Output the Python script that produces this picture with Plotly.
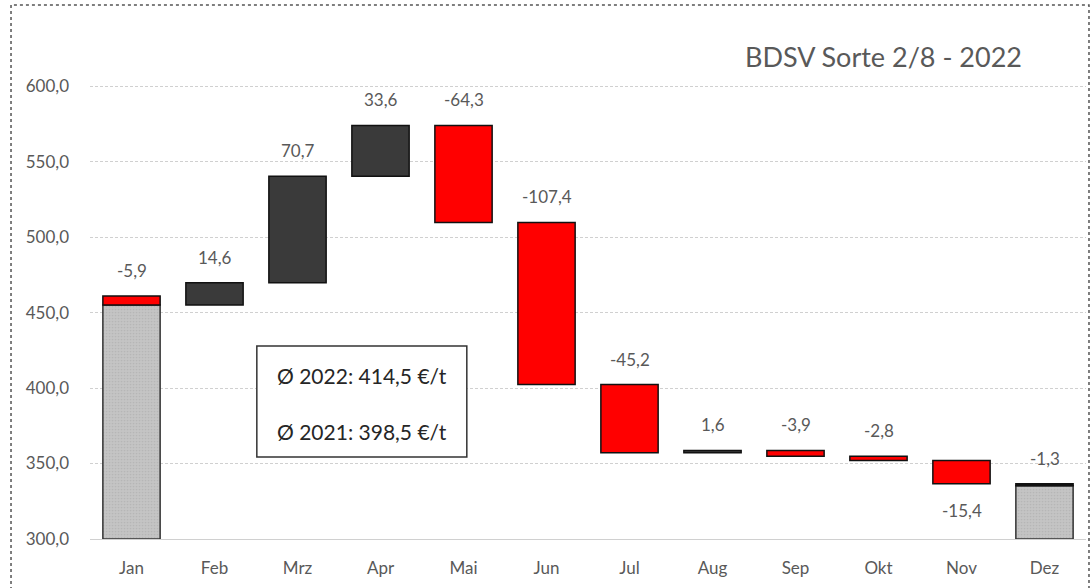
import plotly.graph_objects as go

months = ["Jan", "Feb", "Mrz", "Apr", "Mai", "Jun", "Jul", "Aug", "Sep", "Okt", "Nov", "Dez"]
start_value = 461.0  # Dez 2021
changes = [-5.9, 14.6, 70.7, 33.6, -64.3, -107.4, -45.2, 1.6, -3.9, -2.8, -15.4, -1.3]
change_labels = ["-5,9", "14,6", "70,7", "33,6", "-64,3", "-107,4", "-45,2", "1,6", "-3,9", "-2,8", "-15,4", "-1,3"]
total_months = ["Jan", "Dez"]
avg_lines = ["Ø 2022: 414,5 €/t", "Ø 2021: 398,5 €/t"]
title_text = "BDSV Sorte 2/8 - 2022"
y_min = 300

FONT = "Lato, 'Open Sans', sans-serif"
GRAY_TXT = "#595959"
RED = "#FF0000"
DARK = "#3A3A3A"
GRAYBAR = "#C4C4C4"

# running levels
levels_before = []
levels_after = []
lvl = start_value
for c in changes:
    levels_before.append(lvl)
    lvl = round(lvl + c, 1)
    levels_after.append(lvl)

fig = go.Figure()

# gray total bars (Jan and Dez) up to the lower end of the change
tot_x, tot_base, tot_h = [], [], []
for m, b, a in zip(months, levels_before, levels_after):
    if m in total_months:
        low = min(a, b)
        tot_x.append(m)
        tot_base.append(y_min)
        tot_h.append(low - y_min)
fig.add_trace(go.Bar(
    x=tot_x, y=tot_h, base=tot_base, width=0.69,
    marker=dict(color=GRAYBAR, line=dict(color="#333333", width=1.5),
                pattern=dict(shape=".", fgcolor="#A8A8A8", bgcolor=GRAYBAR, size=3, solidity=0.25)),
    hoverinfo="skip", showlegend=False))

# change bars
bar_colors = []
for m, c in zip(months, changes):
    if m == "Dez":
        bar_colors.append("#111111")
    elif c < 0:
        bar_colors.append(RED)
    else:
        bar_colors.append(DARK)
fig.add_trace(go.Bar(
    x=months, y=[abs(c) for c in changes],
    base=[min(b, a) for b, a in zip(levels_before, levels_after)],
    width=0.69,
    marker=dict(color=bar_colors, line=dict(color="#111111", width=1.5)),
    hoverinfo="skip", showlegend=False))

# value labels
for m, b, a, lab in zip(months, levels_before, levels_after, change_labels):
    top = max(b, a)
    bottom = min(b, a)
    if m == "Nov":
        fig.add_annotation(x=m, y=bottom, text=lab, showarrow=False, yanchor="top", yshift=-14,
                           font=dict(family=FONT, size=17, color=GRAY_TXT))
    else:
        fig.add_annotation(x=m, y=top, text=lab, showarrow=False, yanchor="bottom", yshift=13,
                           font=dict(family=FONT, size=17, color=GRAY_TXT))

# average box
fig.add_shape(type="rect", xref="x", yref="y", x0=1.51, x1=4.04, y0=354.3, y1=427.8,
              line=dict(color="#333333", width=1.5), fillcolor="white", layer="above")
fig.add_annotation(x=2.775, y=408, text=avg_lines[0], showarrow=False, xref="x", yref="y",
                   font=dict(family=FONT, size=21, color="#262626"))
fig.add_annotation(x=2.775, y=371, text=avg_lines[1], showarrow=False, xref="x", yref="y",
                   font=dict(family=FONT, size=21, color="#262626"))

# title
fig.add_annotation(x=0.797, y=1.0, xref="paper", yref="paper", text=title_text, showarrow=False,
                   xanchor="center", yanchor="middle",
                   font=dict(family=FONT, size=27, color=GRAY_TXT))

# outer border
fig.add_shape(type="rect", xref="paper", yref="paper", x0=-0.0793, x1=1.003, y0=-0.12, y1=1.1056,
              line=dict(color="#555555", width=1.5, dash="dot"), fillcolor="rgba(0,0,0,0)")

fig.update_layout(
    width=1092, height=588,
    margin=dict(l=90, r=6, t=56, b=49),
    paper_bgcolor="white", plot_bgcolor="white",
    barmode="overlay",
    font=dict(family=FONT, size=17, color=GRAY_TXT),
    xaxis=dict(type="category", categoryorder="array", categoryarray=months, range=[-0.5, 11.5],
               showgrid=False, showline=True, linecolor="#D0D0D0", linewidth=1,
               ticks="", ticklabelstandoff=14, tickfont=dict(family=FONT, size=17, color=GRAY_TXT),
               zeroline=False),
    yaxis=dict(range=[300, 620], dtick=50, tick0=300, tickformat=".1f",
               showgrid=True, gridcolor="#D0D0D0", griddash="3px,2px", gridwidth=1,
               showline=False, zeroline=False, ticks="", ticklabelstandoff=20,
               tickfont=dict(family=FONT, size=17, color=GRAY_TXT)),
    separators=",.",
)

fig.write_html("out.html", config={"displayModeBar": False},
               post_script="document.body.style.margin='0px';document.body.style.padding='0px';")
